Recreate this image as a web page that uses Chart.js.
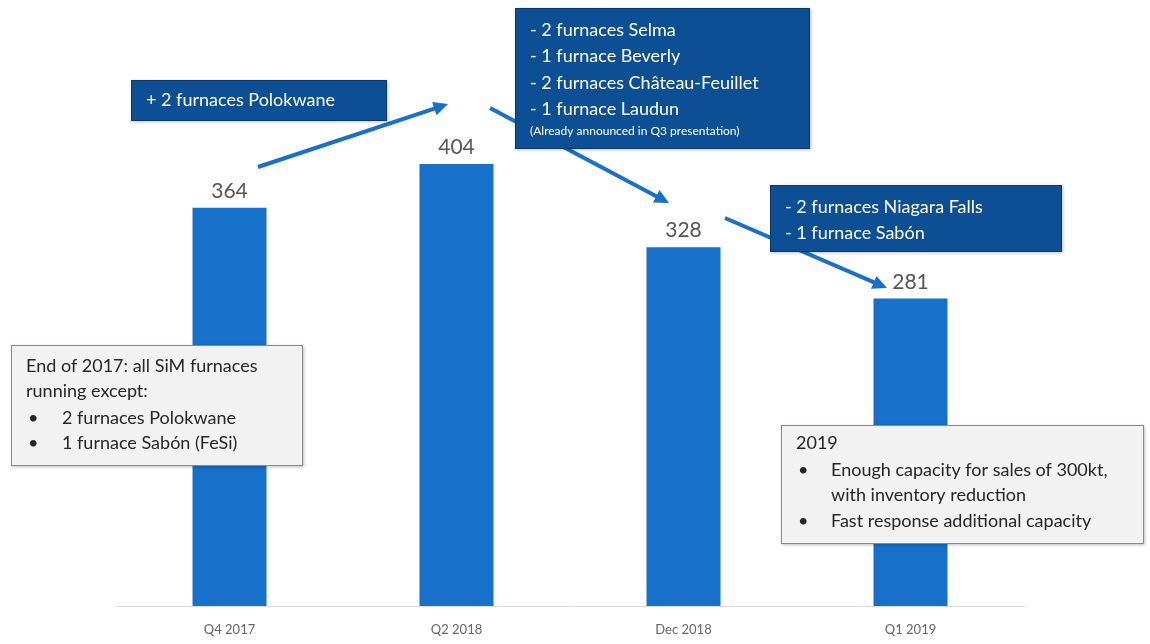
<!DOCTYPE html>
<html>
<head>
<meta charset="utf-8">
<script src="https://cdn.jsdelivr.net/npm/chart.js@4.4.1/dist/chart.umd.min.js"></script>
<style>
  body { margin: 0; background: #fff; }
  #wrap { width: 1150px; height: 644px; }
</style>
</head>
<body>
<div id="wrap"><canvas id="capChart" width="1150" height="644"></canvas></div>
<script>
// Datos del grafico
const periodos = ["Q4 2017", "Q2 2018", "Dec 2018", "Q1 2019"];
const capacidad = [364, 404, 328, 281];

// Textos de las cajas
const notaPolokwane = ["+ 2 furnaces Polokwane"];
const notaCierres = ["- 2 furnaces Selma", "- 1 furnace Beverly", "- 2 furnaces Château-Feuillet", "- 1 furnace Laudun"];
const notaCierresPie = "(Already announced in Q3 presentation)";
const notaNiagara = ["- 2 furnaces Niagara Falls", "- 1 furnace Sabón"];
const nota2017 = ["End of 2017: all SiM furnaces", "running except:"];
const nota2017Items = ["2 furnaces Polokwane", "1 furnace Sabón (FeSi)"];
const nota2019Items = [["Enough capacity for sales of 300kt,", "with inventory reduction"], ["Fast response additional capacity"]];

const FONT = "Lato, 'Open Sans', sans-serif";
const AZUL_BARRA = "#1770c9";
const AZUL_CAJA = "#0d4f95";

function flecha(ctx, x1, y1, x2, y2) {
  const ang = Math.atan2(y2 - y1, x2 - x1);
  const len = 16;
  ctx.save();
  ctx.strokeStyle = AZUL_BARRA;
  ctx.fillStyle = AZUL_BARRA;
  ctx.lineWidth = 4;
  ctx.beginPath();
  ctx.moveTo(x1, y1);
  ctx.lineTo(x2 - Math.cos(ang) * len * 0.8, y2 - Math.sin(ang) * len * 0.8);
  ctx.stroke();
  ctx.beginPath();
  ctx.moveTo(x2, y2);
  ctx.lineTo(x2 - len * Math.cos(ang - 0.45), y2 - len * Math.sin(ang - 0.45));
  ctx.lineTo(x2 - len * Math.cos(ang + 0.45), y2 - len * Math.sin(ang + 0.45));
  ctx.closePath();
  ctx.fill();
  ctx.restore();
}

function caja(ctx, x, y, w, h, fondo, borde) {
  ctx.save();
  ctx.shadowColor = "rgba(0,0,0,0.25)";
  ctx.shadowBlur = 3;
  ctx.shadowOffsetX = 1;
  ctx.shadowOffsetY = 1;
  ctx.fillStyle = fondo;
  ctx.fillRect(x, y, w, h);
  ctx.restore();
  ctx.save();
  ctx.strokeStyle = borde;
  ctx.lineWidth = 1;
  ctx.strokeRect(x + 0.5, y + 0.5, w - 1, h - 1);
  ctx.restore();
}

// Etiquetas de valor sobre cada barra
const etiquetas = {
  id: "etiquetas",
  afterDatasetsDraw(chart) {
    const ctx = chart.ctx;
    const meta = chart.getDatasetMeta(0);
    ctx.save();
    ctx.fillStyle = "#555";
    ctx.font = "21px " + FONT;
    ctx.textAlign = "center";
    ctx.textBaseline = "bottom";
    meta.data.forEach((bar, i) => {
      ctx.fillText(capacidad[i], bar.x, bar.y - 6);
    });
    ctx.restore();
  }
};

// Flechas y cajas de anotacion
const anotaciones = {
  id: "anotaciones",
  afterDraw(chart) {
    const ctx = chart.ctx;
    flecha(ctx, 258, 167, 448, 104);
    flecha(ctx, 490, 108, 669, 203);
    flecha(ctx, 725, 218, 887, 288);

    ctx.save();
    ctx.textBaseline = "middle";
    ctx.textAlign = "left";

    caja(ctx, 131, 80, 256, 41, AZUL_CAJA, "#0a3868");
    ctx.fillStyle = "#fff";
    ctx.font = "18px " + FONT;
    ctx.fillText(notaPolokwane[0], 146, 100);

    caja(ctx, 515, 8, 295, 141, AZUL_CAJA, "#0a3868");
    ctx.fillStyle = "#fff";
    ctx.font = "18px " + FONT;
    notaCierres.forEach((t, i) => ctx.fillText(t, 530, 30 + i * 26.5));
    ctx.font = "12px " + FONT;
    ctx.fillText(notaCierresPie, 530, 131);

    caja(ctx, 770, 185, 292, 67, AZUL_CAJA, "#0a3868");
    ctx.fillStyle = "#fff";
    ctx.font = "18px " + FONT;
    notaNiagara.forEach((t, i) => ctx.fillText(t, 785, 207 + i * 26.5));

    caja(ctx, 11, 345, 292, 121, "#f2f2f2", "#8a8a8a");
    ctx.fillStyle = "#262626";
    ctx.font = "18px " + FONT;
    nota2017.forEach((t, i) => ctx.fillText(t, 26, 366 + i * 25.5));
    nota2017Items.forEach((t, i) => {
      ctx.fillText("•", 28, 418 + i * 25.5);
      ctx.fillText(t, 62, 418 + i * 25.5);
    });

    caja(ctx, 781, 425, 363, 119, "#f2f2f2", "#8a8a8a");
    ctx.fillStyle = "#262626";
    ctx.fillText("2019", 796, 443);
    let y = 470;
    nota2019Items.forEach((lineas) => {
      ctx.fillText("•", 798, y);
      lineas.forEach((t) => {
        ctx.fillText(t, 831, y);
        y += 25.5;
      });
    });
    ctx.restore();
  }
};

const ctx = document.getElementById("capChart");
new Chart(ctx, {
  type: "bar",
  data: {
    labels: periodos,
    datasets: [{
      label: "Capacity",
      data: capacidad,
      backgroundColor: AZUL_BARRA,
      borderWidth: 0,
      categoryPercentage: 1,
      barPercentage: 0.326
    }]
  },
  options: {
    responsive: false,
    animation: false,
    layout: { padding: { left: 116, right: 126, top: 59, bottom: 0 } },
    plugins: { legend: { display: false }, tooltip: { enabled: false } },
    scales: {
      x: {
        grid: { display: false, drawTicks: false },
        border: { display: true, color: "#dcdcdc", width: 1 },
        ticks: { color: "#666", font: { family: FONT, size: 13 }, padding: 16 },
        afterFit(scale) { scale.height = 38; }
      },
      y: { display: false, min: 0, max: 500 }
    }
  },
  plugins: [etiquetas, anotaciones]
});
</script>
</body>
</html>
